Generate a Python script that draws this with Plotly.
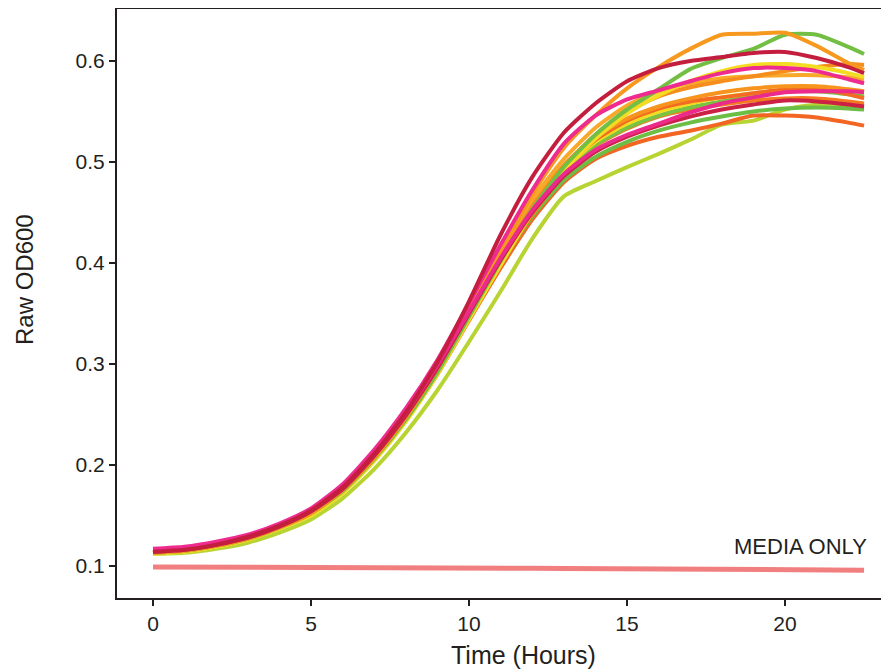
import plotly.graph_objects as go

# Time points (hours)
time_h = [0, 1, 2, 3, 4, 5, 6, 7, 8, 9, 10, 11, 12, 13, 14, 15, 16, 17, 18, 19, 20, 21, 22, 22.5]

# Raw OD600 per well
lime = [.112, .113, .117, .123, .133, .146, .167, .196, .232, .274, .322, .372, .424, .466, .481, .495, .508, .522, .537, .541, .552, .557, .556, .555]
orange_red_bottom = [.113, .115, .120, .127, .138, .152, .174, .206, .245, .290, .343, .395, .443, .480, .503, .516, .525, .531, .538, .546, .546, .544, .539, .536]
green_low = [.113, .115, .120, .127, .138, .152, .174, .206, .245, .291, .345, .398, .446, .482, .505, .520, .531, .539, .545, .550, .553, .554, .553, .552]
orange5 = [.113, .115, .120, .127, .138, .152, .174, .205, .244, .290, .344, .398, .448, .488, .516, .533, .545, .552, .557, .561, .563, .563, .560, .558]
green3 = [.113, .115, .120, .127, .138, .152, .175, .208, .248, .296, .350, .404, .452, .490, .517, .534, .546, .554, .560, .566, .570, .570, .567, .565]
yellow2 = [.113, .115, .120, .127, .138, .152, .174, .206, .246, .293, .348, .402, .452, .492, .520, .538, .550, .558, .564, .568, .571, .572, .571, .569]
orange_red2 = [.114, .116, .121, .128, .139, .153, .176, .209, .250, .298, .352, .406, .455, .494, .522, .541, .553, .560, .564, .568, .572, .573, .567, .563]
orange3 = [.114, .116, .121, .128, .139, .154, .177, .211, .252, .300, .355, .409, .458, .497, .525, .543, .555, .563, .569, .573, .575, .575, .572, .570]
orange4 = [.113, .115, .120, .128, .139, .154, .178, .212, .254, .303, .358, .412, .463, .503, .534, .556, .570, .578, .583, .585, .586, .586, .584, .582]
orange2 = [.113, .115, .120, .127, .138, .152, .174, .207, .248, .296, .352, .405, .455, .496, .527, .550, .565, .574, .580, .585, .590, .594, .597, .596]
yellow_top = [.112, .114, .119, .126, .137, .150, .172, .204, .243, .290, .344, .398, .450, .492, .523, .548, .566, .580, .590, .596, .597, .594, .588, .584]
green_top = [.113, .115, .120, .127, .138, .152, .174, .206, .245, .292, .347, .402, .453, .495, .527, .552, .572, .592, .603, .612, .626, .626, .614, .607]
orange_top = [.113, .115, .120, .127, .138, .152, .175, .207, .247, .296, .352, .410, .468, .514, .546, .573, .594, .612, .626, .627, .628, .615, .598, .591]
crimson_low = [.114, .116, .121, .128, .139, .154, .176, .209, .249, .296, .350, .403, .450, .486, .510, .525, .536, .545, .552, .557, .561, .560, .557, .555]
pink_low = [.116, .118, .123, .130, .141, .156, .179, .212, .252, .299, .352, .405, .452, .488, .512, .527, .538, .549, .558, .564, .569, .570, .570, .569]
pink_top = [.117, .119, .124, .131, .142, .157, .181, .215, .256, .304, .360, .418, .472, .518, .546, .562, .571, .580, .588, .593, .593, .590, .582, .578]
crimson_top = [.114, .116, .121, .129, .140, .155, .178, .211, .252, .302, .362, .428, .485, .529, .558, .580, .593, .600, .604, .608, .609, .603, .594, .588]

media_only = [.0990, .0990, .0989, .0988, .0987, .0986, .0985, .0984, .0983, .0982, .0980, .0979, .0978, .0976, .0974, .0972, .0970, .0968, .0966, .0964, .0962, .0960, .0959, .0958]

wells = [
    (lime, "#B8D433"),
    (orange_red_bottom, "#F26522"),
    (green_low, "#6DBE45"),
    (orange5, "#F47B20"),
    (green3, "#7CC242"),
    (yellow2, "#F1DC1E"),
    (orange_red2, "#F26A24"),
    (orange3, "#F7941D"),
    (orange4, "#F9A82A"),
    (orange2, "#F68E1E"),
    (yellow_top, "#F4DC22"),
    (green_top, "#72BF44"),
    (orange_top, "#F7981F"),
    (crimson_low, "#CB2144"),
    (pink_low, "#EC2A8C"),
    (pink_top, "#EE2B8E"),
    (crimson_top, "#C41E3F"),
]

fig = go.Figure()
for vals, col in wells:
    fig.add_trace(go.Scatter(x=time_h, y=vals, mode="lines",
                             line=dict(color=col, width=4, shape="spline", smoothing=0.6),
                             showlegend=False, hoverinfo="skip"))

fig.add_trace(go.Scatter(x=time_h, y=media_only, mode="lines",
                         line=dict(color="#F17F7F", width=5),
                         showlegend=False, hoverinfo="skip"))

txt = "#231F20"
font_main = "Liberation Sans, Arial, sans-serif"

# page is offset by the 8px body margin, so the figure is 881x662 placed at (8,8)
W, H = 881, 662
L, R, T, B = 109, 0, 0, 72
PW, PH = W - L - R, H - T - B  # 772 x 590
OFF = 8

fig.update_layout(
    width=W, height=H,
    margin=dict(l=L, r=R, t=T, b=B, pad=0),
    paper_bgcolor="white", plot_bgcolor="white",
    font=dict(family=font_main, color=txt),
    xaxis=dict(range=[-1.14, 23.29], tickvals=[0, 5, 10, 15, 20],
               showgrid=False, zeroline=False, showline=True, linecolor=txt, linewidth=2,
               ticks="outside", ticklen=6, tickwidth=2, tickcolor=txt,
               tickfont=dict(size=21, color=txt, family=font_main)),
    yaxis=dict(range=[0.0683, 0.6525], tickvals=[0.1, 0.2, 0.3, 0.4, 0.5, 0.6],
               tickformat=".1f",
               showgrid=False, zeroline=False, showline=True, linecolor=txt, linewidth=2,
               ticks="outside", ticklen=6, tickwidth=2, tickcolor=txt,
               tickfont=dict(size=21, color=txt, family=font_main)),
    shapes=[dict(type="line", xref="paper", yref="paper", x0=0, x1=1, y0=1, y1=1,
                 line=dict(color=txt, width=2))],
)

def px_to_paper(px, py):
    fx = px - OFF
    fy = py - OFF
    return (fx - L) / PW, (H - B - fy) / PH

mx, my = px_to_paper(869, 546)
fig.add_annotation(x=mx, y=my, xref="paper", yref="paper", text="MEDIA ONLY",
                   showarrow=False, xanchor="right", yanchor="middle",
                   font=dict(family=font_main, size=22, color=txt))

tx, ty = px_to_paper(523, 655)
fig.add_annotation(x=tx, y=ty, xref="paper", yref="paper",
                   text="Time (Hours)", showarrow=False, xanchor="center", yanchor="middle",
                   font=dict(family=font_main, size=25, color=txt))
yx, yy = px_to_paper(25, 280)
fig.add_annotation(x=yx, y=yy, xref="paper", yref="paper",
                   text="Raw OD600", textangle=-90, showarrow=False,
                   xanchor="center", yanchor="middle",
                   font=dict(family=font_main, size=24, color=txt))

fig.write_html("out.html")
